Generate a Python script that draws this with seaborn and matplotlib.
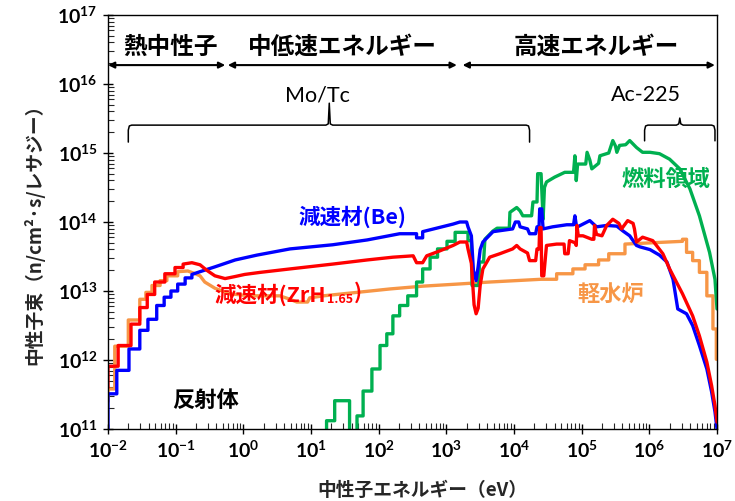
import numpy as np
import pandas as pd
import matplotlib
matplotlib.use("Agg")
import matplotlib.pyplot as plt
import seaborn as sns
from matplotlib.ticker import FuncFormatter, LogLocator, NullFormatter

# ---------------- data: log10(energy [eV]) and log10(flux) ----------------
be_log_e = [-2.00, -2.00, -1.87, -1.87, -1.69, -1.69, -1.53, -1.53, -1.41, -1.41, -1.28, -1.28,
            -1.17, -1.17, -1.07, -1.07, -0.97, -0.97, -0.86, -0.86, -0.76, -0.76,
            -0.64, -0.42, -0.12, 0.20, 0.69, 1.32, 1.83, 2.31, 2.56, 2.56, 2.65, 2.65,
            3.10, 3.20, 3.30, 3.32, 3.37, 3.40, 3.44, 3.47, 3.50, 3.54, 3.69, 3.98, 4.02,
            4.07, 4.09, 4.20, 4.23, 4.32, 4.34, 4.37, 4.38, 4.41, 4.43, 4.57, 4.78, 4.88,
            4.90, 4.92, 4.94, 5.12, 5.22, 5.37, 5.52, 5.61, 5.71, 5.81, 5.86, 6.01, 6.15,
            6.26, 6.35, 6.42, 6.55, 6.64, 6.74, 6.85, 6.92, 6.97, 7.00]
be_log_flux = [11.00, 11.51, 11.51, 11.85, 11.85, 12.16, 12.16, 12.43, 12.43, 12.59, 12.59, 12.79,
               12.79, 12.91, 12.91, 13.00, 13.00, 13.10, 13.10, 13.19, 13.19, 13.24,
               13.28, 13.35, 13.45, 13.52, 13.61, 13.67, 13.74, 13.83, 13.83, 13.77, 13.77, 13.86,
               13.97, 14.00, 14.00, 13.93, 13.80, 13.30, 13.15, 13.35, 13.60, 13.71, 13.86, 13.90, 14.00,
               14.00, 13.93, 13.90, 13.83, 13.83, 13.93, 13.93, 14.19, 14.19, 13.90, 13.93, 13.96, 13.96,
               14.09, 13.96, 13.93, 14.02, 13.93, 13.95, 13.94, 13.87, 13.80, 13.66, 13.64, 13.60, 13.52,
               13.42, 13.17, 12.74, 12.67, 12.50, 12.21, 11.87, 11.54, 11.25, 11.00]

zrh_log_e = [-2.00, -2.00, -1.85, -1.85, -1.66, -1.66, -1.53, -1.53, -1.42, -1.42, -1.31, -1.31,
             -1.16, -1.16, -1.01, -1.01, -0.89, -0.89, -0.76, -0.64, -0.54, -0.42, -0.27, -0.12,
             0.02, 0.25, 0.69, 1.32, 1.83, 2.21, 2.51, 2.56, 2.65, 2.71, 2.90, 3.10, 3.20, 3.30,
             3.32, 3.37, 3.41, 3.44, 3.47, 3.50, 3.54, 3.64, 3.79, 3.98, 4.04, 4.09, 4.20, 4.23,
             4.32, 4.34, 4.37, 4.38, 4.40, 4.41, 4.44, 4.48, 4.63, 4.74, 4.75, 4.80, 4.82, 4.90,
             4.92, 4.93, 4.95, 5.02, 5.15, 5.18, 5.19, 5.22, 5.30, 5.37, 5.46, 5.55, 5.59, 5.65,
             5.68, 5.76, 5.78, 5.81, 5.90, 6.05, 6.20, 6.30, 6.40, 6.49, 6.64, 6.74, 6.85, 6.92,
             6.97, 7.00]
zrh_log_flux = [11.60, 11.91, 11.91, 12.21, 12.21, 12.52, 12.52, 12.76, 12.76, 12.95, 12.95, 13.13,
                13.13, 13.25, 13.25, 13.34, 13.34, 13.39, 13.41, 13.38, 13.30, 13.22, 13.18, 13.21,
                13.24, 13.27, 13.32, 13.39, 13.45, 13.49, 13.51, 13.41, 13.41, 13.51, 13.58, 13.66, 13.71, 13.71,
                13.61, 13.40, 12.80, 12.67, 12.75, 13.08, 13.32, 13.49, 13.54, 13.61, 13.66, 13.61, 13.55, 13.44,
                13.44, 13.61, 13.61, 13.92, 13.92, 13.22, 13.22, 13.66, 13.68, 13.68, 13.54, 13.54, 13.73, 13.70,
                13.66, 13.95, 13.80, 13.80, 13.75, 13.75, 13.95, 13.82, 13.80, 13.95, 14.04, 13.98, 13.90, 13.98,
                14.02, 13.98, 13.90, 13.71, 13.78, 13.73, 13.54, 13.32, 13.13, 12.96, 12.64, 12.35, 11.97, 11.63,
                11.34, 11.10]

lwr_log_e = [-2.00, -2.00, -1.90, -1.90, -1.70, -1.70, -1.53, -1.53, -1.44, -1.44, -1.35, -1.35,
             -1.23, -1.23, -1.13, -1.13, -0.97, -0.97, -0.82, -0.71, -0.64, -0.57, -0.42, -0.20,
             0.10, 0.54, 0.69, 0.79, 0.95, 0.98, 1.18, 1.68, 2.17, 2.65, 3.16, 3.64, 4.40, 4.63,
             4.63, 4.87, 4.87, 5.05, 5.05, 5.25, 5.25, 5.40, 5.40, 5.64, 5.64, 6.49, 6.49, 6.55,
             6.55, 6.64, 6.64, 6.74, 6.74, 6.85, 6.85, 6.94, 6.94, 6.99, 6.99, 7.00]
lwr_log_flux = [11.40, 11.58, 11.58, 12.20, 12.20, 12.58, 12.58, 12.88, 12.88, 12.98, 12.98, 13.08,
                13.08, 13.15, 13.15, 13.22, 13.22, 13.28, 13.29, 13.25, 13.22, 13.13, 13.04, 12.96,
                12.93, 12.93, 12.88, 12.84, 12.84, 12.90, 12.93, 12.98, 13.03, 13.07, 13.10, 13.13, 13.17, 13.17,
                13.25, 13.25, 13.32, 13.32, 13.38, 13.38, 13.45, 13.45, 13.54, 13.54, 13.68, 13.72, 13.75, 13.75,
                13.56, 13.56, 13.44, 13.44, 13.27, 13.27, 12.93, 12.93, 12.45, 12.45, 12.01, 12.01]

fuel_log_e = [1.23, 1.23, 1.35, 1.35, 1.57, 1.57, 1.68, 1.68, 1.77, 1.77, 1.90, 1.90, 2.02, 2.02,
              2.12, 2.12, 2.21, 2.21, 2.31, 2.31, 2.43, 2.43, 2.56, 2.56, 2.65, 2.65, 2.76, 2.76,
              2.87, 2.87, 3.01, 3.01, 3.13, 3.13, 3.32, 3.32, 3.37, 3.38, 3.48, 3.49, 3.55, 3.57,
              3.69, 3.75, 3.93, 3.94, 4.04, 4.09, 4.13, 4.26, 4.28, 4.34, 4.35, 4.40, 4.43, 4.45,
              4.48, 4.60, 4.75, 4.88, 4.90, 4.92, 4.94, 5.06, 5.08, 5.12, 5.15, 5.25, 5.27, 5.40,
              5.46, 5.50, 5.52, 5.56, 5.65, 5.71, 5.81, 5.90, 6.01, 6.15, 6.30, 6.45, 6.60, 6.74,
              6.89, 6.97, 7.00]
fuel_log_flux = [10.00, 11.12, 11.12, 11.41, 11.41, 10.00, 10.00, 11.19, 11.19, 11.55, 11.55, 11.87, 11.87, 12.21,
                 12.21, 12.38, 12.38, 12.64, 12.64, 12.79, 12.79, 12.93, 12.93, 13.13, 13.13, 13.32, 13.32, 13.49,
                 13.49, 13.61, 13.61, 13.72, 13.72, 13.85, 13.85, 13.73, 13.73, 13.08, 13.08, 13.42, 13.42, 13.75,
                 13.87, 13.91, 13.91, 14.14, 14.21, 14.16, 14.09, 14.09, 14.29, 14.29, 14.70, 14.70, 14.04, 14.50,
                 14.58, 14.65, 14.72, 14.72, 14.96, 14.60, 14.84, 14.84, 15.01, 14.90, 14.77, 14.85, 14.96, 15.00,
                 15.18, 15.10, 15.01, 15.11, 15.12, 15.18, 15.08, 15.01, 15.01, 14.99, 14.91, 14.77, 14.48, 14.09,
                 13.56, 13.17, 12.74]

series_names = ["軽水炉", "燃料領域", "減速材(Be)", "減速材(ZrH1.65)"]
series_colors = ["#f79646", "#00b050", "#0000ff", "#ff0000"]

# energy regions (eV) and labels at the top
region_labels = ["熱中性子", "中低速エネルギー", "高速エネルギー"]
region_bounds = [(1.0e-2, 0.54), (0.59, 1.43e3), (1.74e3, 9.3e6)]
region_label_x = [0.085, 29.0, 1.66e5]

# target ranges (log10 eV): (left, right, peak position)
brace_ranges = {"Mo/Tc": (-1.70, 4.23, 1.27), "Ac-225": (5.93, 6.97, 6.45)}
brace_text_x = {"Mo/Tc": 1.10, "Ac-225": 5.95}

# ---------------- style ----------------
sns.set_theme(style="ticks")
plt.rcParams["font.family"] = ["Noto Sans CJK JP", "DejaVu Sans"]
plt.rcParams["mathtext.fontset"] = "custom"
plt.rcParams["mathtext.rm"] = "Lato"
plt.rcParams["mathtext.bf"] = "Lato:bold"

fig = plt.figure(figsize=(7.35, 5.02), dpi=100)
ax = fig.add_axes([108 / 735, 1 - 430 / 502, 609 / 735, 414 / 502])

logs = [(lwr_log_e, lwr_log_flux), (fuel_log_e, fuel_log_flux),
        (be_log_e, be_log_flux), (zrh_log_e, zrh_log_flux)]
for (le, lf), name, col in zip(logs, series_names, series_colors):
    df = pd.DataFrame({"E": 10 ** np.array(le), "flux": 10 ** np.array(lf)})
    sns.lineplot(data=df, x="E", y="flux", ax=ax, color=col, lw=2.4,
                 estimator=None, sort=False, legend=False)

ax.set_xscale("log")
ax.set_yscale("log")
ax.set_xlim(1e-2, 1e7)
ax.set_ylim(1e11, 1e17)

def fmt(v, pos):
    e = int(round(np.log10(v)))
    return r"$\mathbf{10^{%d}}$" % e

for axis in (ax.xaxis, ax.yaxis):
    axis.set_major_locator(LogLocator(base=10, numticks=20))
    axis.set_minor_locator(LogLocator(base=10, subs=np.arange(2, 10), numticks=20))
    axis.set_major_formatter(FuncFormatter(fmt))
    axis.set_minor_formatter(NullFormatter())

ax.tick_params(axis="both", which="major", direction="inout", length=7, width=1,
               labelsize=14, colors="black")
ax.tick_params(axis="x", which="major", pad=5)
ax.tick_params(axis="y", which="major", pad=4)
ax.tick_params(axis="both", which="minor", direction="in", length=4, width=0.8)
for sp in ax.spines.values():
    sp.set_visible(True)
    sp.set_color("black")
    sp.set_linewidth(1.0)

ax.set_xlabel("中性子エネルギー（eV）", fontsize=13.5, fontweight="bold")
ax.xaxis.set_label_coords(0.516, -0.123)
ax.set_ylabel("中性子束（n/cm²·s/レサジー）", fontsize=13.5, fontweight="bold")
ax.yaxis.set_label_coords(-0.105, 0.483)

xt = ax.get_xaxis_transform()

# region arrows and labels
for lab, (x0, x1), xc in zip(region_labels, region_bounds, region_label_x):
    ax.annotate("", xy=(x1, 0.879), xytext=(x0, 0.879), xycoords=xt,
                arrowprops=dict(arrowstyle="<|-|>", color="black", lw=1.5,
                                mutation_scale=9, shrinkA=0, shrinkB=0))
    ax.text(xc, 0.925, lab, transform=xt, ha="center", va="center",
            fontsize=17, fontweight="bold", color="black")

# braces
def brace(x0, x1, xc, y_top, y_end, y_peak):
    r = 0.05
    xs = [x0, x0, x0 + r * 0.3, x0 + r, xc - r, xc - r * 0.3, xc, xc + r * 0.3, xc + r,
          x1 - r, x1 - r * 0.3, x1, x1]
    ys = [y_end, y_top - 0.012, y_top - 0.002, y_top, y_top, y_top + 0.003, y_peak,
          y_top + 0.003, y_top, y_top, y_top - 0.002, y_top - 0.012, y_end]
    ax.plot(10 ** np.array(xs), ys, transform=xt, color="black", lw=1.1,
            clip_on=False, solid_joinstyle="round")

x0, x1, xc = brace_ranges["Mo/Tc"]
brace(x0, x1, xc, 0.734, 0.693, 0.787)
x0, x1, xc = brace_ranges["Ac-225"]
brace(x0, x1, xc, 0.734, 0.696, 0.751)
for key, lx in brace_text_x.items():
    ax.text(10 ** lx, 0.809, key, transform=xt, ha="center", va="center",
            fontsize=15.5, family=["Lato", "DejaVu Sans"], color="black")

# in-plot labels
ax.text(10 ** 0.81, 0.498, "減速材(Be)", transform=xt, ha="left", va="baseline",
        fontsize=15.5, fontweight="bold", color="#0000ff")
t1 = ax.text(10 ** -0.42, 0.31, "減速材(ZrH", transform=xt, ha="left", va="baseline",
             fontsize=15.5, fontweight="bold", color="#ff0000")
t2 = ax.annotate("1.65", xy=(1, 0), xycoords=t1, xytext=(0.5, 0), textcoords="offset points",
                 ha="left", va="bottom", fontsize=9, fontweight="bold", color="#ff0000")
ax.annotate(")", xy=(1, 1), xycoords=t2, xytext=(0.5, 8), textcoords="offset points",
            ha="left", va="top", fontsize=15.5, fontweight="bold", color="#ff0000")
ax.text(10 ** 5.59, 0.589, "燃料領域", transform=xt, ha="left", va="baseline",
        fontsize=16, fontweight="bold", color="#00b050")
ax.text(10 ** 4.94, 0.309, "軽水炉", transform=xt, ha="left", va="baseline",
        fontsize=16, fontweight="bold", color="#f79646")
ax.text(10 ** -1.05, 0.056, "反射体", transform=xt, ha="left", va="baseline",
        fontsize=16, fontweight="bold", color="black")

fig.savefig("out.png", dpi=100)
